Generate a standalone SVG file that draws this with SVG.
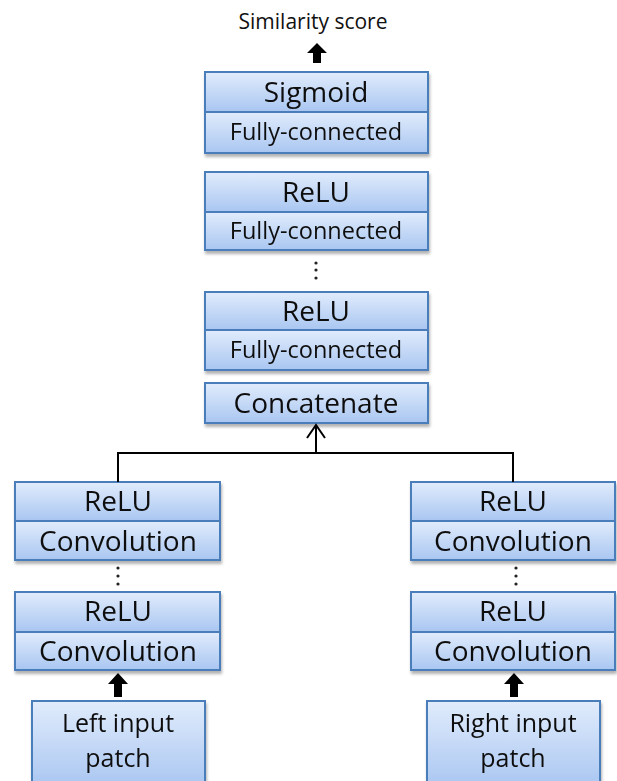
<svg xmlns="http://www.w3.org/2000/svg" width="617" height="781" viewBox="0 0 617 781">
<defs>
<linearGradient id="g" x1="0" y1="0" x2="0" y2="1">
<stop offset="0" stop-color="#e1ecfc"/>
<stop offset="1" stop-color="#a9c6f1"/>
</linearGradient>
<filter id="sh" x="-10%" y="-10%" width="120%" height="130%">
<feDropShadow dx="1" dy="3" stdDeviation="1.5" flood-color="#000" flood-opacity="0.3"/>
</filter>
</defs>
<style>
.b{fill:url(#g);stroke:#4a7ebb;stroke-width:2}
.t{font-family:"Open Sans","Liberation Sans",sans-serif;fill:#111;text-anchor:middle;dominant-baseline:central}
.l{font-size:28px}
.s{font-size:23.5px}
.i{font-size:25px}
.c{fill:none;stroke:#000;stroke-width:2}
.a{fill:#000}
.d{fill:#222}
</style>
<text class="t" x="313" y="21" font-size="21">Similarity score</text>
<g id="sigmoid-fc" filter="url(#sh)">
<rect class="b" x="205" y="72" width="223" height="40"/>
<rect class="b" x="205" y="112" width="223" height="41"/>
<text class="t l" x="316" y="91">Sigmoid</text>
<text class="t s" x="316" y="131">Fully-connected</text>
</g>
<g id="relu-fc-2" filter="url(#sh)">
<rect class="b" x="205" y="172" width="223" height="40"/>
<rect class="b" x="205" y="212" width="223" height="38"/>
<text class="t l" x="316" y="191">ReLU</text>
<text class="t s" x="316" y="230">Fully-connected</text>
</g>
<g id="dots-fc">
<circle class="d" cx="316" cy="263" r="1.6"/>
<circle class="d" cx="316" cy="270" r="1.6"/>
<circle class="d" cx="316" cy="278" r="1.6"/>
</g>
<g id="relu-fc-1" filter="url(#sh)">
<rect class="b" x="205" y="292" width="223" height="38"/>
<rect class="b" x="205" y="330" width="223" height="40"/>
<text class="t l" x="316" y="310">ReLU</text>
<text class="t s" x="316" y="349">Fully-connected</text>
</g>
<g id="concatenate" filter="url(#sh)">
<rect class="b" x="205" y="383" width="223" height="40"/>
<text class="t l" x="316" y="402">Concatenate</text>
</g>
<g id="left-conv-2" filter="url(#sh)">
<rect class="b" x="15" y="482" width="205" height="39"/>
<rect class="b" x="15" y="521" width="205" height="39"/>
<text class="t l" x="118" y="500">ReLU</text>
<text class="t l" x="118" y="540">Convolution</text>
</g>
<g id="left-dots">
<circle class="d" cx="118" cy="568" r="1.6"/>
<circle class="d" cx="118" cy="576" r="1.6"/>
<circle class="d" cx="118" cy="584" r="1.6"/>
</g>
<g id="left-conv-1" filter="url(#sh)">
<rect class="b" x="15" y="592" width="205" height="40"/>
<rect class="b" x="15" y="632" width="205" height="38"/>
<text class="t l" x="118" y="610">ReLU</text>
<text class="t l" x="118" y="650">Convolution</text>
</g>
<g id="left-input" filter="url(#sh)">
<rect class="b" x="32" y="701" width="173" height="86"/>
<text class="t i" x="118" y="722">Left input</text>
<text class="t i" x="118" y="757">patch</text>
</g>
<g id="right-conv-2" filter="url(#sh)">
<rect class="b" x="411" y="482" width="204" height="39"/>
<rect class="b" x="411" y="521" width="204" height="39"/>
<text class="t l" x="513" y="500">ReLU</text>
<text class="t l" x="513" y="540">Convolution</text>
</g>
<g id="right-dots">
<circle class="d" cx="516" cy="568" r="1.6"/>
<circle class="d" cx="516" cy="576" r="1.6"/>
<circle class="d" cx="516" cy="584" r="1.6"/>
</g>
<g id="right-conv-1" filter="url(#sh)">
<rect class="b" x="411" y="592" width="204" height="40"/>
<rect class="b" x="411" y="632" width="204" height="38"/>
<text class="t l" x="513" y="610">ReLU</text>
<text class="t l" x="513" y="650">Convolution</text>
</g>
<g id="right-input" filter="url(#sh)">
<rect class="b" x="427" y="701" width="173" height="86"/>
<text class="t i" x="513" y="722">Right input</text>
<text class="t i" x="513" y="757">patch</text>
</g>
<g id="connectors">
<polyline class="c" points="118,482 118,453 513,453 513,482"/>
<line class="c" x1="316" y1="453" x2="316" y2="425"/>
<polyline class="c" points="307,438 316,425 325,438"/>
<polygon class="a" points="317,43 327,53 321,53 321,63 313,63 313,53 307,53"/>
<polygon class="a" points="118,673 128,684 122,684 122,697 114,697 114,684 108,684"/>
<polygon class="a" points="514,673 524,684 518,684 518,697 510,697 510,684 504,684"/>
</g>
</svg>
